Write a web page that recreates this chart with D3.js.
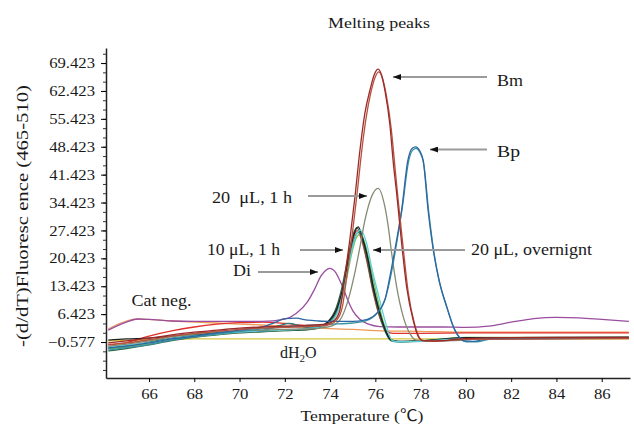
<!DOCTYPE html>
<html>
<head>
<meta charset="utf-8">
<script src="https://cdnjs.cloudflare.com/ajax/libs/d3/7.8.5/d3.min.js"></script>
<style>
  body { margin: 0; background: #fff; }
  svg { display: block; }
  text { font-family: "Liberation Serif", "Times New Roman", "Noto Sans CJK SC", serif; fill: #1a1a1a; }
</style>
</head>
<body>
<div id="chart"></div>
<script>
// x ticks (temperature) and y ticks (-dF/dT)
const xTicks = [66, 68, 70, 72, 74, 76, 78, 80, 82, 84, 86];
const yTicks = [-0.577, 6.423, 13.423, 20.423, 27.423, 34.423, 41.423, 48.423, 55.423, 62.423, 69.423];

// curves, [temperature, value]
const bmDark = [[64.2,-0.8],[65,-0.3],[66,0.4],[67,1.2],[68,1.9],[69,2.4],[70,2.9],[71,3.2],[72,3.4],[73,3.6],[73.8,3.9],[74.2,4.9],[74.43,7.4],[74.65,15.8],[74.87,25.0],[75.1,35.9],[75.32,47.6],[75.54,56.9],[75.76,62.6],[75.95,66.5],[76.12,67.9],[76.28,66.3],[76.42,62.6],[76.64,54.0],[76.8,44.0],[76.94,36.8],[77.05,30.5],[77.16,24.3],[77.38,13.3],[77.67,4.9],[77.89,0.8],[78.04,-0.1],[78.3,-0.3],[79,-0.2],[80,0.3],[84,0.6],[87.2,0.6]];
const bmBrown = [[64.2,-1.3],[65,-0.8],[66,0],[67,0.9],[68,1.6],[69,2.1],[70,2.6],[71,2.9],[72,3.1],[73,3.3],[73.9,3.7],[74.3,5.0],[74.55,8.5],[74.75,16.5],[74.97,26.0],[75.2,37.0],[75.4,47.5],[75.6,56.0],[75.8,62.0],[76.0,66.0],[76.15,67.2],[76.32,65.5],[76.48,61.5],[76.7,53.0],[76.88,42.5],[77.0,35.5],[77.12,29.0],[77.24,22.5],[77.45,12.0],[77.72,4.2],[77.95,0.5],[78.1,-0.3],[78.5,-0.4],[80,0.1],[87.2,0.3]];
const grey1h = [[64.2,-1.6],[65,-1.1],[66,-0.3],[67,0.7],[68,1.4],[69,1.9],[70,2.2],[71,2.4],[72,2.6],[73,2.7],[73.98,3.3],[74.43,4.9],[74.8,10.0],[75.09,16.7],[75.32,23.3],[75.54,30.0],[75.83,35.9],[76.12,38.0],[76.42,33.4],[76.57,28.4],[76.72,21.7],[76.94,13.3],[77.23,5.8],[77.52,1.6],[77.82,-0.1],[78.5,-0.3],[79.5,-0.2],[81,0.3],[87.2,0.4]];
const bpBlue = [[64.2,-2.1],[65,-1.6],[66,-0.8],[67,0.2],[68,0.9],[69,1.7],[70,2.4],[71,3.2],[71.6,4.4],[72,5.3],[72.5,5.4],[73,4.9],[73.5,4.7],[74,4.6],[75,4.6],[75.5,4.9],[75.98,6.2],[76.42,10.0],[76.64,15.8],[76.86,22.5],[77.16,32.5],[77.44,45.1],[77.62,48.0],[77.78,48.4],[77.95,47.5],[78.11,45.1],[78.33,32.5],[78.56,22.5],[78.78,15.8],[79.15,8.3],[79.44,3.3],[79.74,0.4],[79.9,-0.3],[80.3,-0.4],[81,0.2],[87.2,0.4]];
const bpTeal = [[64.2,-2.6],[65,-2.0],[66,-1.2],[67,-0.1],[68,0.7],[69,1.4],[70,2.1],[71,2.7],[72,3.2],[73,3.6],[74,3.9],[75,4.2],[75.6,4.8],[76.05,6.5],[76.45,10.5],[76.7,16.5],[76.92,23.5],[77.2,33.5],[77.46,44.5],[77.64,47.5],[77.8,48.0],[77.97,47.0],[78.14,44.0],[78.36,32.0],[78.6,21.5],[78.82,14.8],[79.2,7.5],[79.5,2.6],[79.8,0.1],[80,-0.5],[80.5,-0.5],[81.2,0.3],[87.2,0.5]];
const clBlack = [[64.2,-0.1],[65,0.2],[66,0.4],[67,0.9],[68,1.4],[69,1.7],[70,1.9],[71,2.2],[72,2.4],[73,2.7],[73.5,3.2],[73.91,4.5],[74.28,7.5],[74.58,13.3],[74.8,20.0],[75.02,25.8],[75.24,28.3],[75.46,25.0],[75.68,20.0],[75.9,13.3],[76.2,6.6],[76.5,1.6],[76.72,-0.1],[77,-0.4],[78,-0.3],[80,0.5],[87.2,0.6]];
const clDarkGreen = [[64.2,-2.8],[65,-2.2],[66,-1.3],[67,-0.2],[68,0.6],[69,1.2],[70,1.7],[71,2.0],[72,2.3],[73,2.5],[73.5,2.9],[73.85,4.2],[74.2,7.0],[74.5,12.5],[74.75,19.5],[74.97,25.5],[75.18,28.1],[75.4,25.5],[75.62,20.5],[75.85,13.8],[76.15,6.8],[76.45,1.8],[76.68,-0.2],[77,-0.5],[78,-0.4],[80,0.4],[87.2,0.6]];
const clCyan = [[64.2,-1.8],[65,-1.3],[66,-0.8],[67,0.2],[68,0.9],[69,1.4],[70,1.9],[71,2.2],[72,2.4],[73,2.8],[73.6,3.2],[74.0,4.2],[74.3,6.5],[74.6,12.5],[74.85,19.5],[75.05,24.5],[75.32,27.5],[75.61,24.3],[75.83,18.3],[76.12,11.6],[76.42,4.9],[76.64,0.8],[76.75,-0.2],[77,-0.5],[78,-0.4],[80,0.3],[87.2,0.5]];
const clGreen = [[64.2,-2.3],[65,-1.8],[66,-1.0],[67,0.0],[68,0.8],[69,1.3],[70,1.8],[71,2.1],[72,2.3],[73,2.6],[73.7,3.3],[74.1,4.8],[74.4,8.0],[74.7,14.5],[74.95,21.5],[75.15,25.5],[75.35,26.6],[75.55,24.0],[75.78,18.5],[76.05,11.5],[76.35,4.5],[76.6,0.6],[76.8,-0.3],[77.2,-0.5],[78,-0.3],[80,0.6],[87.2,0.6]];
const clTeal = [[64.2,-2.0],[65,-1.5],[66,-0.6],[67,0.4],[68,1.1],[69,1.6],[70,2.0],[71,2.3],[71.8,3.6],[72.2,4.1],[72.6,3.6],[73,3.1],[73.6,3.4],[74.0,4.6],[74.3,7.2],[74.6,13.0],[74.85,20.0],[75.05,25.0],[75.25,27.0],[75.5,24.5],[75.72,19.0],[75.95,12.5],[76.25,5.8],[76.55,1.2],[76.75,-0.3],[77.1,-0.5],[78,-0.3],[80,0.5],[87.2,0.6]];
const clRed = [[64.2,-1.2],[65,-0.7],[66,0.9],[67,2.2],[68,3.2],[69,3.9],[70,4.3],[71,4.4],[72,4.1],[73,3.6],[73.6,3.6],[74.0,4.6],[74.3,7.2],[74.6,13.5],[74.85,21.0],[75.05,26.0],[75.2,27.4],[75.42,24.5],[75.65,19.0],[75.9,12.0],[76.2,5.5],[76.5,2.2],[76.8,1.6],[78,1.6],[80,1.7],[87.2,1.7]];
const diPurple = [[64.2,2.4],[65,4.4],[65.5,5.2],[66,5.1],[67,4.7],[68,4.6],[70,4.6],[71,4.6],[72,5.2],[72.5,6.6],[73.0,9.5],[73.3,12.5],[73.6,16.0],[73.8,17.4],[74.0,17.9],[74.2,17.2],[74.5,14.0],[74.8,9.7],[75.0,7.3],[75.3,5.2],[75.7,3.9],[76.2,3.3],[77,3.2],[79,3.2],[80,3.1],[81,3.4],[82,4.4],[83,5.3],[84,5.6],[85,5.5],[86,5.1],[87.2,4.6]];
const catNeg = [[64.2,2.7],[65,4.7],[65.5,5.2],[66,5.1],[67,4.7],[68,4.4],[69,4.2],[70,3.9],[71,3.7],[72,3.4],[73,3.2],[74,2.8],[75,2.6],[76,2.3],[78,2.1],[80,1.9],[87.2,1.9]];
const dH2O = [[64.2,-0.3],[66,0.0],[68,0.2],[87.2,0.2]];

const series = [
  { data: dH2O, color: "#d8c63c" },
  { data: catNeg, color: "#ee9a58" },
  { data: clRed, color: "#e0302a" },
  { data: diPurple, color: "#9a4c9f" },
  { data: clGreen, color: "#7cc04c" },
  { data: clDarkGreen, color: "#2d6a4a" },
  { data: clTeal, color: "#23807f" },
  { data: clBlack, color: "#1e1e1e" },
  { data: clCyan, color: "#62d0da" },
  { data: grey1h, color: "#858a74" },
  { data: bpTeal, color: "#3a93a3" },
  { data: bpBlue, color: "#2e66a2" },
  { data: bmBrown, color: "#b4533e" },
  { data: bmDark, color: "#9c2a2a" },
];

const width = 634, height = 429;
const svg = d3.select("#chart").append("svg").attr("width", width).attr("height", height);

const x = d3.scaleLinear().domain([64.1, 87.25]).range([106, 630]);
const y = d3.scaleLinear().domain([-9.6, 73.2]).range([378, 48]);

// stretch text a bit wider, the scan is wider than the font
const stretch = (sel, k) => {
  sel.each(function () {
    const w = this.getComputedTextLength();
    d3.select(this).attr("textLength", w * k).attr("lengthAdjust", "spacingAndGlyphs");
  });
};

// curves
const line = d3.line().x(d => x(d[0])).y(d => y(d[1])).curve(d3.curveMonotoneX);
svg.append("g").selectAll("path").data(series).join("path")
  .attr("d", d => line(d.data))
  .attr("fill", "none")
  .attr("stroke", d => d.color)
  .attr("stroke-width", 1.3)
  .attr("stroke-linejoin", "round");

// y axis, minor ticks first
const minor = d3.range(-4, 32).map(k => -0.577 + k * 7 / 3).filter(v => v > -9.6 && v < 73.2);
svg.append("g").attr("transform", "translate(106,0)")
  .call(d3.axisLeft(y).tickValues(minor).tickSize(3).tickFormat(""))
  .call(g => g.select(".domain").remove())
  .selectAll("line").attr("stroke", "#333");

const yAxis = svg.append("g").attr("transform", "translate(106,0)")
  .call(d3.axisLeft(y).tickValues(yTicks).tickFormat(d3.format(".3f")).tickSize(5).tickSizeOuter(0).tickPadding(6));
yAxis.select(".domain").attr("stroke", "#222").attr("stroke-width", 1.5);
yAxis.selectAll("text").attr("font-size", 14.5).attr("font-family", null).call(stretch, 1.15);

const xAxis = svg.append("g").attr("transform", "translate(0,378)")
  .call(d3.axisBottom(x).tickValues(xTicks).tickSize(4).tickSizeOuter(0).tickPadding(7));
xAxis.select(".domain").attr("stroke", "#222").attr("stroke-width", 1.5);
xAxis.selectAll("text").attr("font-size", 14.5).attr("font-family", null).call(stretch, 1.15);

// titles
svg.append("text").attr("x", 379).attr("y", 28).attr("text-anchor", "middle")
  .attr("font-size", 15.5).text("Melting peaks").attr("textLength", 102).attr("lengthAdjust", "spacingAndGlyphs");
svg.append("text").attr("x", 362).attr("y", 421).attr("text-anchor", "middle")
  .attr("font-size", 15.5).text("Temperature (\u2103)").attr("textLength", 123).attr("lengthAdjust", "spacingAndGlyphs");
svg.append("text").attr("transform", "translate(28,216) rotate(-90)").attr("text-anchor", "middle")
  .attr("font-size", 16).text("-(d/dT)Fluoresc ence (465-510)").attr("textLength", 262).attr("lengthAdjust", "spacingAndGlyphs");

// arrows
svg.append("defs").append("marker")
  .attr("id", "head").attr("viewBox", "0 0 8 6").attr("refX", 8).attr("refY", 3)
  .attr("markerWidth", 8).attr("markerHeight", 6).attr("markerUnits", "userSpaceOnUse").attr("orient", "auto")
  .append("path").attr("d", "M0,0L8,3L0,6Z").attr("fill", "#111");

const arrows = [
  [487, 77, 393, 77],
  [487, 149.5, 430, 149.5],
  [308, 196, 367, 196],
  [300, 250, 343, 250],
  [465, 250, 373, 250],
  [258, 272, 318, 272],
];
svg.append("g").selectAll("line").data(arrows).join("line")
  .attr("x1", d => d[0]).attr("y1", d => d[1]).attr("x2", d => d[2]).attr("y2", d => d[3])
  .attr("stroke", "#9a9a9a").attr("stroke-width", 2).attr("marker-end", "url(#head)");

const labels = [
  ["Bm", 497, 85.5, 26],
  ["Bp", 497, 157, 23],
  ["20\u00a0 \u03bcL, 1 h", 212, 203, 80],
  ["10 \u03bcL, 1 h", 207, 255, 73],
  ["Di", 233, 276, 18],
  ["20 \u03bcL, overnignt", 471, 255, 121],
  ["Cat neg.", 131.5, 306, 60],
];
svg.append("g").selectAll("text").data(labels).join("text")
  .attr("x", d => d[1]).attr("y", d => d[2]).attr("font-size", 16)
  .attr("textLength", d => d[3]).attr("lengthAdjust", "spacingAndGlyphs")
  .text(d => d[0]);

const water = svg.append("text").attr("x", 280).attr("y", 358).attr("font-size", 16);
water.append("tspan").text("dH");
water.append("tspan").attr("font-size", 11).attr("dy", 4).text("2");
water.append("tspan").attr("dy", -4).text("O");
</script>
</body>
</html>
